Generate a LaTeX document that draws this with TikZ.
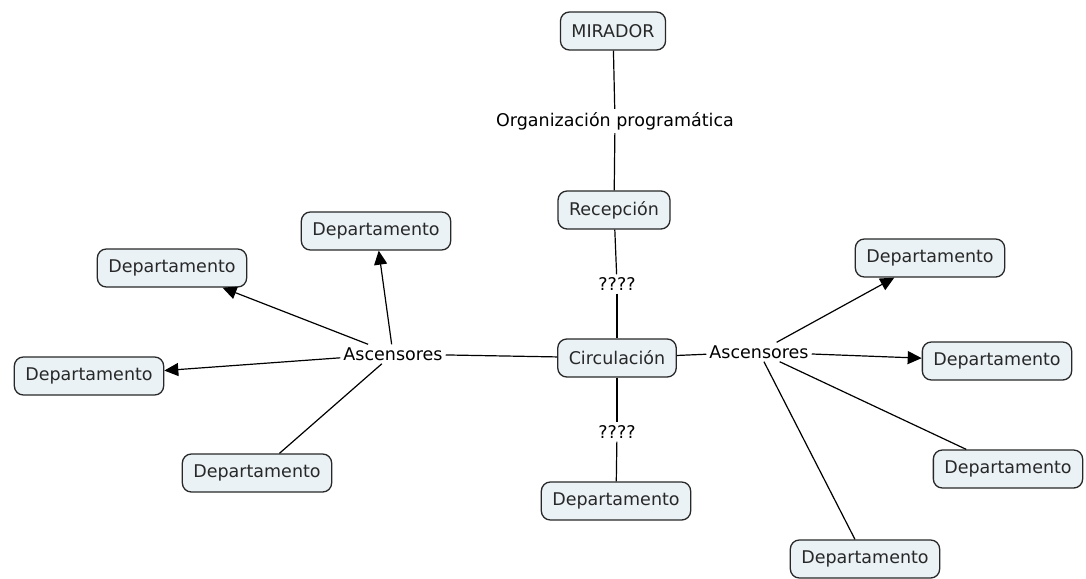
\documentclass[tikz,border=0pt]{standalone}
\usepackage{fontspec}
\setmainfont{DejaVu Sans}
\usetikzlibrary{arrows.meta}
\definecolor{boxfill}{RGB}{234,242,245}
\definecolor{ink}{RGB}{40,40,40}
\tikzset{
  concept/.style = {draw=ink, rounded corners=9pt, line width=1.3pt, fill=boxfill,
                    minimum height=38pt, inner xsep=11pt, text=ink,
                    font=\fontsize{17.5}{20}\selectfont},
  link/.style    = {inner sep=3pt, text=black, font=\fontsize{17.5}{20}\selectfont},
  line/.style    = {line width=1.2pt, draw=black},
  arrow/.style   = {line, -{Triangle[length=14pt,width=13pt]}},
}
\begin{document}
\begin{tikzpicture}[x=1pt,y=-1pt]
  \useasboundingbox (0,0) rectangle (1086,578);
  % central column
  \node[concept] (mir)  at (613,31)  {MIRADOR};
  \node[link]    (org)  at (615,121) {Organización programática};
  \node[concept] (rec)  at (614,210) {Recepción};
  \node[link]    (q1)   at (617,284) {????};
  \node[concept] (circ) at (617,358) {Circulación};
  \node[link]    (q2)   at (617,432) {????};
  \node[concept] (dc)   at (616,501) {Departamento};
  % lifts on both sides
  \node[link] (ascl) at (393,354) {Ascensores};
  \node[link] (ascr) at (759,352) {Ascensores};
  % left wing
  \node[concept] (dl1) at (376,231) {Departamento};
  \node[concept] (dl2) at (172,268) {Departamento};
  \node[concept] (dl3) at (89,376)  {Departamento};
  \node[concept] (dl4) at (257,473) {Departamento};
  % right wing
  \node[concept] (dr1) at (930,258)  {Departamento};
  \node[concept] (dr2) at (997,361)  {Departamento};
  \node[concept] (dr3) at (1008,469) {Departamento};
  \node[concept] (dr4) at (865,559)  {Departamento};

  \draw[line] (mir) -- (org); \draw[line] (org) -- (rec);
  \draw[line] (rec) -- (q1);  \draw[line] (q1) -- (circ);
  \draw[line] (circ) -- (q2); \draw[line] (q2) -- (dc);
  \draw[line] (circ) -- (ascl);
  \draw[line] (circ) -- (ascr);

  \draw[arrow] (ascl) -- (dl1);
  \draw[arrow] (ascl) -- (dl2);
  \draw[arrow] (ascl) -- (dl3);
  \draw[line]  (ascl) -- (dl4);

  \draw[arrow] (ascr) -- (dr1);
  \draw[arrow] (ascr) -- (dr2);
  \draw[line]  (ascr) -- (dr3);
  \draw[line]  (ascr) -- (dr4);
\end{tikzpicture}
\end{document}
